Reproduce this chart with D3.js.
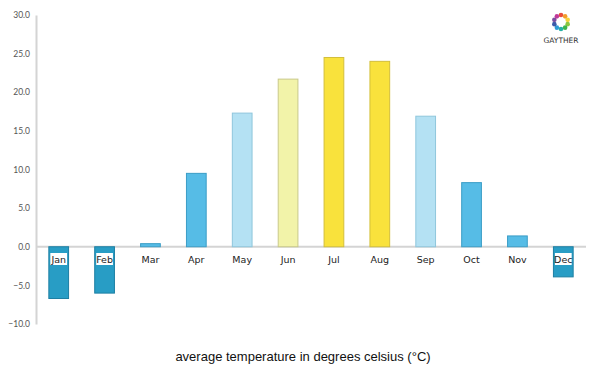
<!DOCTYPE html>
<html><head><meta charset="utf-8">
<script src="https://cdn.jsdelivr.net/npm/d3@7"></script>
<style>body{margin:0;background:#fff;}svg{display:block;}</style>
</head><body>
<svg id="c" width="600" height="375"></svg>
<script>
const months = ["Jan","Feb","Mar","Apr","May","Jun","Jul","Aug","Sep","Oct","Nov","Dec"];
const temps = [-6.7, -6.0, 0.4, 9.5, 17.3, 21.7, 24.5, 24.0, 16.9, 8.3, 1.4, -3.9];
const barColors = ["#289dc5","#289dc5","#56bce6","#56bce6","#b4e1f3","#f2f3a9","#f9e23c","#f9e23c","#b4e1f3","#56bce6","#56bce6","#289dc5"];
const strokeColors = ["#1d7fa3","#1d7fa3","#3b9dc6","#3b9dc6","#8fc6dc","#c9c98a","#d3bf3a","#d3bf3a","#8fc6dc","#3b9dc6","#3b9dc6","#1d7fa3"];
const yTicks = [-10, -5, 0, 5, 10, 15, 20, 25, 30];
const title = "average temperature in degrees celsius (°C)";

const svg = d3.select("#c");
const x = d3.scaleBand().domain(months).range([36, 586]).paddingInner(0.57).paddingOuter(0.28);
const y = d3.scaleLinear().domain([-10, 30]).range([324, 15]);

// y axis
const ya = svg.append("g").attr("transform","translate(36,0)")
  .call(d3.axisLeft(y).tickValues(yTicks).tickSize(0).tickPadding(6).tickFormat(d3.format(".1f")));
ya.select(".domain").attr("stroke","#d4d4d4").attr("stroke-width",2);
ya.selectAll("text").attr("font-family","Lato, 'DejaVu Sans', sans-serif").attr("font-size",8.5).attr("fill","#555");

// baseline
svg.append("line").attr("x1",36).attr("x2",586).attr("y1",y(0)).attr("y2",y(0))
  .attr("stroke","#d4d4d4").attr("stroke-width",2);

// bars
svg.selectAll("rect.bar").data(months).join("rect").attr("class","bar")
  .attr("x", d => x(d))
  .attr("width", x.bandwidth())
  .attr("y", (d,i) => temps[i] >= 0 ? y(temps[i]) : y(0))
  .attr("height", (d,i) => Math.abs(y(temps[i]) - y(0)))
  .attr("fill", (d,i) => barColors[i])
  .attr("stroke", (d,i) => strokeColors[i])
  .attr("stroke-width", 1);

// label backgrounds for negative bars
const lab = svg.append("g");
months.forEach((m,i) => {
  const cx = x(m) + x.bandwidth()/2;
  if (temps[i] < 0) {
    lab.append("rect").attr("x", x(m)+1.5).attr("y", 253).attr("width", x.bandwidth()-3).attr("height", 12).attr("fill","#fff");
  }
  lab.append("text").attr("x", cx).attr("y", 263).attr("text-anchor","middle")
    .attr("font-family","'DejaVu Sans', sans-serif").attr("font-size",9.5).attr("fill","#222").text(m);
});

// title
svg.append("text").attr("x",303).attr("y",361).attr("text-anchor","middle")
  .attr("font-family","'Liberation Sans', Arial, sans-serif").attr("font-size",13).attr("fill","#111").text(title);

// logo
const logoColors = ["#e94e3c","#f39c2b","#f5d33a","#8cc63f","#3db54a","#26b1a6","#2e9bd6","#3c5ba9","#7b4fa0","#c0399a"];
const lg = svg.append("g").attr("transform","translate(561,22)");
logoColors.forEach((c,i) => {
  const a = i / logoColors.length * 2 * Math.PI - Math.PI/2;
  lg.append("circle").attr("cx", 7*Math.cos(a)).attr("cy", 7*Math.sin(a)).attr("r",2.3).attr("fill",c);
});
svg.append("text").attr("x",561).attr("y",43).attr("text-anchor","middle")
  .attr("font-family","'DejaVu Sans', sans-serif").attr("font-size",7.5).attr("fill","#333").text("GAYTHER");
</script>
</body></html>
